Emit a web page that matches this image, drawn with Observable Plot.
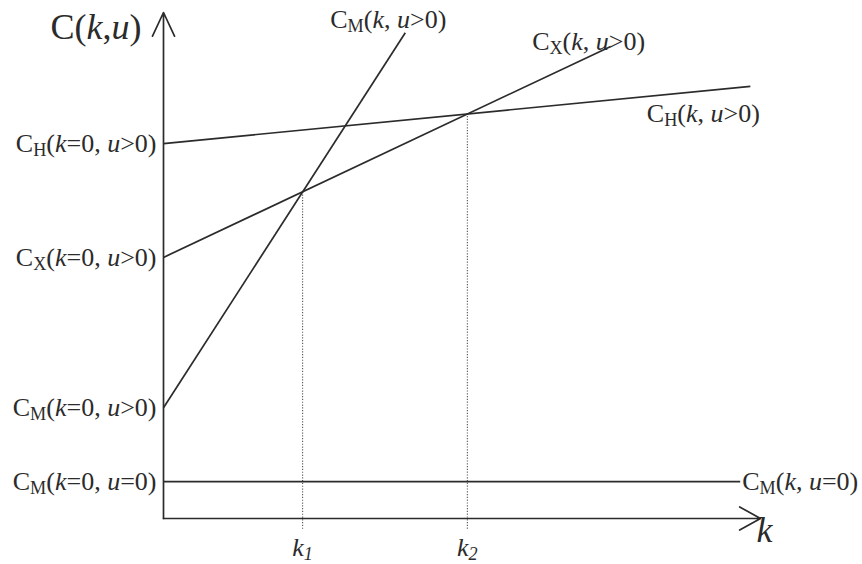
<!DOCTYPE html>
<html>
<head>
<meta charset="utf-8">
<script src="https://cdn.jsdelivr.net/npm/d3@7"></script>
<script src="https://cdn.jsdelivr.net/npm/@observablehq/plot@0.6"></script>
<style>
  body { margin: 0; background: #fff; }
  #chart svg { display: block; }
</style>
</head>
<body>
<div id="chart"></div>
<script>
// Cost curves C(k,u): value at k = 0 and the far end of each drawn segment.
// Markup in labels: *...* italic, _x subscript of the next character.
const curveNames = ["CH", "CX", "CMu", "CM0"];
const startC = [7.41, 5.16, 2.19, 0.73];
const endK = [9.83, 7.49, 4.05, 9.66];
const endC = [8.54, 9.33, 9.60, 0.73];
const curveLabels = ["C_H(*k*, *u*>0)", "C_X(*k*, *u*>0)", "C_M(*k*, *u*>0)", "C_M(*k*, *u*=0)"];
const interceptLabels = ["C_H(*k*=0, *u*>0)", "C_X(*k*=0, *u*>0)", "C_M(*k*=0, *u*>0)", "C_M(*k*=0, *u*=0)"];

// Switching points k1 (C_M meets C_X) and k2 (C_X meets C_H)
const crossK = [2.33, 5.09];
const crossC = [6.45, 8.0];
const crossLabels = ["*k*_*1*", "*k*_*2*"];

// Axis extents
const axisX2 = [0, 10];
const axisY2 = [10, 0];
const axisTitles = ["C(*k*,*u*)", "*k*"];
const dropC = -0.24;

const ink = "#2b2b2b";
const font = "Liberation Serif, Times New Roman, serif";
const labelSize = 26;

const segments = curveNames.map((name, i) => ({
  name, k1: 0, c1: startC[i], k2: endK[i], c2: endC[i],
  label: curveLabels[i], start: interceptLabels[i]
}));
const crossings = crossK.map((k, i) => ({k, c: crossC[i], label: crossLabels[i]}));
const axes = axisX2.map((x, i) => ({x, y: axisY2[i], title: axisTitles[i]}));

const endLabel = (i, dx, dy, anchor = "middle") =>
  Plot.text([segments[i]], {
    x: "k2", y: "c2", text: "label", dx, dy, textAnchor: anchor,
    fontSize: labelSize, fill: ink
  });

const chart = Plot.plot({
  width: 862,
  height: 564,
  marginLeft: 163,
  marginRight: 102,
  marginTop: 12,
  marginBottom: 46,
  style: {fontFamily: font, background: "#fff", color: ink},
  x: {domain: [0, 10], axis: null},
  y: {domain: [0, 10], axis: null},
  marks: [
    // dotted drop lines at the switching points
    Plot.ruleX(crossings, {
      x: "k", y1: "c", y2: dropC,
      stroke: "#555", strokeWidth: 1.1, strokeDasharray: "1.2,1.6"
    }),
    // cost curves
    Plot.link(segments, {
      x1: "k1", y1: "c1", x2: "k2", y2: "c2",
      stroke: ink, strokeWidth: 1.7
    }),
    // axes with arrowheads
    Plot.arrow([axes[0]], {
      x1: 0, y1: 0, x2: "x", y2: "y",
      stroke: ink, strokeWidth: 1.7, headLength: 23, headAngle: 50
    }),
    Plot.arrow([axes[1]], {
      x1: 0, y1: 0, x2: "x", y2: "y",
      stroke: ink, strokeWidth: 1.7, headLength: 21, headAngle: 58
    }),
    // intercept labels left of the vertical axis
    Plot.text(segments, {
      x: "k1", y: "c1", text: "start", dx: -7, textAnchor: "end",
      fontSize: labelSize, fill: ink
    }),
    // curve labels at the far ends
    endLabel(0, -47, 27),
    endLabel(1, -22, -5),
    endLabel(2, -17, -13),
    endLabel(3, 2, 0, "start"),
    // k1, k2 under the axis
    Plot.text(crossings, {
      x: "k", y: dropC, text: "label", dy: 17, fontSize: 26, fill: ink
    }),
    // axis titles
    Plot.text([axes[0]], {
      x: 0, y: "y", text: "title", dx: -22, dy: 15, textAnchor: "end",
      fontSize: 36, fill: ink
    }),
    Plot.text([axes[1]], {
      x: "x", y: 0, text: "title", dx: -4, dy: 12, textAnchor: "start",
      fontSize: 36, fill: ink
    })
  ]
});

document.getElementById("chart").append(chart);

// Turn the label markup into italic / subscript tspans.
for (const t of chart.querySelectorAll("text")) {
  const src = t.textContent;
  if (!/[*_]/.test(src)) continue;
  const fs = parseFloat(getComputedStyle(t).fontSize) || labelSize;
  const runs = [];
  let italic = false, sub = false;
  for (const ch of src) {
    if (ch === "*") { italic = !italic; continue; }
    if (ch === "_") { sub = true; continue; }
    const last = runs[runs.length - 1];
    if (last && last.italic === italic && last.sub === sub) last.text += ch;
    else runs.push({text: ch, italic, sub});
    sub = false;
  }
  t.textContent = "";
  let shift = 0;
  for (const r of runs) {
    const s = document.createElementNS("http://www.w3.org/2000/svg", "tspan");
    s.textContent = r.text;
    if (r.italic) s.setAttribute("font-style", "italic");
    const want = r.sub ? fs * 0.15 : 0;
    if (want !== shift) { s.setAttribute("dy", want - shift); shift = want; }
    if (r.sub) s.setAttribute("font-size", fs * 0.7);
    t.appendChild(s);
  }
}
</script>
</body>
</html>
